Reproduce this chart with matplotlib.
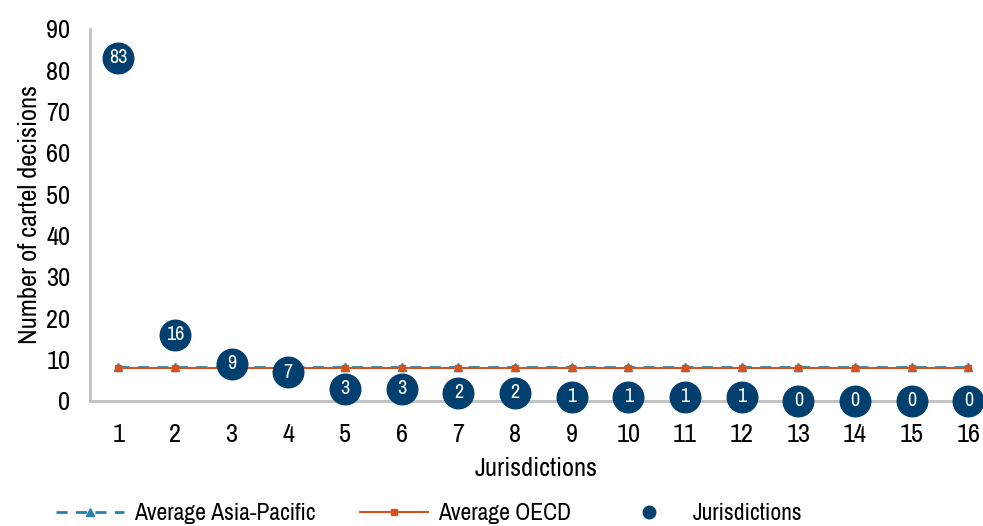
import matplotlib.pyplot as plt
from matplotlib import font_manager

names = {f.name for f in font_manager.fontManager.ttflist}
narrow = [n for n in ['Liberation Sans Narrow', 'Arial Narrow', 'Archivo Narrow',
                      'PT Sans Narrow', 'Roboto Condensed', 'Open Sans Condensed']
          if n in names]
plt.rcParams['font.family'] = narrow[:1] + ['DejaVu Sans']

jurisdictions = list(range(1, 17))
decisions = [83, 16, 9, 7, 3, 3, 2, 2, 1, 1, 1, 1, 0, 0, 0, 0]
avg_asia_pacific = [8.3] * 16
avg_oecd = [7.9] * 16

navy = '#003f6e'
teal = '#2582ad'
orange = '#d8521c'

fig = plt.figure(figsize=(9.83, 5.26), dpi=100)
ax = fig.add_axes([90 / 983, 1 - 401 / 526, 1 - 90 / 983, 372 / 526])

ax.plot(jurisdictions, avg_asia_pacific, color=teal, ls=(0, (4, 3)), lw=2,
        marker='^', ms=6, label='Average Asia-Pacific', zorder=2)
ax.plot(jurisdictions, avg_oecd, color=orange, lw=1.5,
        marker='s', ms=5, label='Average OECD', zorder=3)
ax.plot(jurisdictions, decisions, ls='none', marker='o', ms=22, color=navy,
        label='Jurisdictions', zorder=4, clip_on=False)
for x, y in zip(jurisdictions, decisions):
    ax.text(x, y, str(y), color='white', ha='center', va='center',
            fontsize=14.5, zorder=5)

ax.set_xlim(0.5, 0.5 + (983 - 90) / 56.67)
ax.set_ylim(0, 90)
ax.set_xticks(jurisdictions)
ax.set_yticks(range(0, 91, 10))
ax.tick_params(axis='x', length=0, labelsize=19, pad=16)
ax.tick_params(axis='y', length=0, labelsize=19, pad=14)
for side in ['top', 'right']:
    ax.spines[side].set_visible(False)
for side in ['left', 'bottom']:
    ax.spines[side].set_color('#c0c0c0')
    ax.spines[side].set_linewidth(2)
ax.set_xlabel('Jurisdictions', fontsize=19, labelpad=8)
ax.set_ylabel('Number of cartel decisions', fontsize=19, labelpad=4)

leg = fig.legend(loc='center left', bbox_to_anchor=(56 / 983, 1 - 514 / 526), ncol=3,
                 frameon=False, fontsize=17, columnspacing=1.85, handlelength=2.9,
                 handletextpad=0.42, borderaxespad=0, borderpad=0)
leg.legend_handles[2].set_markersize(9)

fig.savefig('out.png', dpi=100)
